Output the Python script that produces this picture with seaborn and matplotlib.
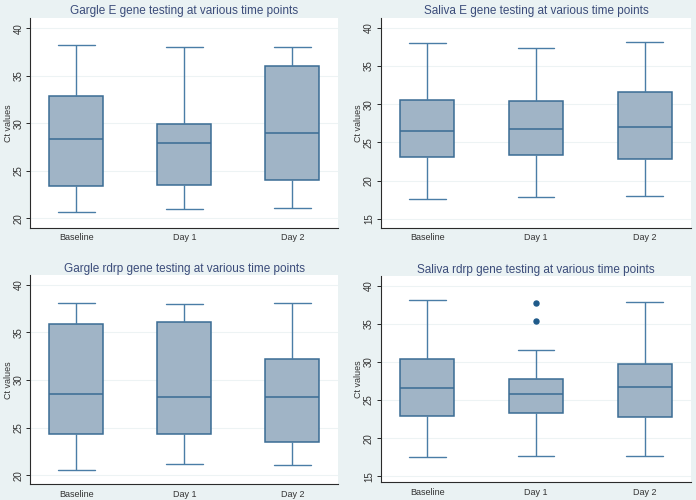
"""
Ct values of E and rdrp gene tests, gargle vs saliva, over three time points.
"""

import pandas as pd
import matplotlib.pyplot as plt
import seaborn as sns

sns.set_style("ticks")
plt.rcParams["font.family"] = ["Liberation Sans", "DejaVu Sans"]

TIMEPOINTS = ["Baseline", "Day 1", "Day 2"]

# five-number summaries (low whisker, Q1, median, Q3, high whisker)
gargle_e_low = [20.6, 20.95, 21.1]
gargle_e_q1 = [23.4, 23.5, 24.0]
gargle_e_med = [28.3, 27.9, 28.95]
gargle_e_q3 = [32.9, 29.9, 36.0]
gargle_e_high = [38.2, 38.0, 38.0]

saliva_e_low = [17.57, 17.83, 18.0]
saliva_e_q1 = [23.06, 23.3, 22.88]
saliva_e_med = [26.5, 26.76, 27.06]
saliva_e_q3 = [30.6, 30.37, 31.6]
saliva_e_high = [38.0, 37.3, 38.17]

gargle_rdrp_low = [20.52, 21.22, 21.12]
gargle_rdrp_q1 = [24.34, 24.34, 23.46]
gargle_rdrp_med = [28.5, 28.25, 28.18]
gargle_rdrp_q3 = [35.87, 36.08, 32.24]
gargle_rdrp_high = [38.04, 38.0, 38.1]

saliva_rdrp_low = [17.54, 17.63, 17.71]
saliva_rdrp_q1 = [22.97, 23.36, 22.84]
saliva_rdrp_med = [26.65, 25.81, 26.73]
saliva_rdrp_q3 = [30.37, 27.83, 29.8]
saliva_rdrp_high = [38.2, 31.55, 37.94]
saliva_rdrp_outliers = [[], [35.4, 37.8], []]

BG = "#eaf2f3"
BOX_FILL = "#a0b4c6"
BOX_EDGE = "#3a6c94"
WHISKER = "#4a7da6"
FLIER = "#1f5a8a"
TITLE_COLOR = "#3b4c7a"
TEXT = "#333333"


def sample_from_summary(lo, q1, med, q3, hi, outliers=()):
    # repeat the summary values so that the quartiles come out exactly
    k = len(outliers)
    c = k + 2
    return [lo] * (1 + k) + [q1] * c + [med] + [q3] * c + [hi] + sorted(outliers)


def panel_frame(low, q1, med, q3, high, outliers=None):
    rows = []
    for i, tp in enumerate(TIMEPOINTS):
        out = outliers[i] if outliers else []
        for v in sample_from_summary(low[i], q1[i], med[i], q3[i], high[i], out):
            rows.append({"Time point": tp, "Ct values": v})
    return pd.DataFrame(rows)


panels = [
    dict(title="Gargle E gene testing at various time points",
         df=panel_frame(gargle_e_low, gargle_e_q1, gargle_e_med, gargle_e_q3, gargle_e_high),
         rect=[0.0435, 0.5446, 0.4425, 0.420], ylim=(19.0, 41.1), yticks=[20, 25, 30, 35, 40]),
    dict(title="Saliva E gene testing at various time points",
         df=panel_frame(saliva_e_low, saliva_e_q1, saliva_e_med, saliva_e_q3, saliva_e_high),
         rect=[0.5474, 0.5446, 0.4454, 0.420], ylim=(13.85, 41.3), yticks=[15, 20, 25, 30, 35, 40]),
    dict(title="Gargle rdrp gene testing at various time points",
         df=panel_frame(gargle_rdrp_low, gargle_rdrp_q1, gargle_rdrp_med, gargle_rdrp_q3, gargle_rdrp_high),
         rect=[0.0435, 0.0314, 0.4425, 0.418], ylim=(19.05, 41.0), yticks=[20, 25, 30, 35, 40]),
    dict(title="Saliva rdrp gene testing at various time points",
         df=panel_frame(saliva_rdrp_low, saliva_rdrp_q1, saliva_rdrp_med, saliva_rdrp_q3, saliva_rdrp_high,
                        saliva_rdrp_outliers),
         rect=[0.5474, 0.0354, 0.4454, 0.412], ylim=(14.2, 41.27), yticks=[15, 20, 25, 30, 35, 40]),
]

fig = plt.figure(figsize=(6.96, 5.0), dpi=100)
fig.patch.set_facecolor(BG)

for p in panels:
    ax = fig.add_axes(p["rect"])
    ax.set_facecolor("white")
    sns.boxplot(
        data=p["df"], x="Time point", y="Ct values", order=TIMEPOINTS, ax=ax,
        color=BOX_FILL, saturation=1, linecolor=BOX_EDGE, linewidth=1.1,
        width=0.5, capwidths=0.34,
        whiskerprops=dict(color=WHISKER, linewidth=1.0),
        capprops=dict(color=WHISKER, linewidth=1.0),
        flierprops=dict(marker="o", markersize=3.6, markerfacecolor=FLIER,
                        markeredgecolor=FLIER),
    )
    ax.set_xlim(-0.426, 2.426)
    ax.set_ylim(*p["ylim"])
    ax.set_yticks(p["yticks"])
    ax.yaxis.grid(True, color="#edf3f4", linewidth=0.8)
    ax.set_axisbelow(True)

    ax.set_title(p["title"], fontsize=8.5, color=TITLE_COLOR, pad=2.5)
    ax.set_xlabel("")
    ax.set_ylabel("Ct values", fontsize=6.5, color=TEXT, labelpad=0.5)

    ax.tick_params(axis="x", length=0, labelsize=6.5, labelcolor=TEXT, pad=4)
    ax.tick_params(axis="y", length=3, width=0.7, labelsize=7, labelcolor=TEXT, pad=2)
    for lbl in ax.get_yticklabels():
        lbl.set_rotation(90)
        lbl.set_va("center")

    sns.despine(ax=ax)
    for side in ["left", "bottom"]:
        ax.spines[side].set_color("#2b2b2b")
        ax.spines[side].set_linewidth(0.8)

fig.savefig("out.png", dpi=100, facecolor=BG)
